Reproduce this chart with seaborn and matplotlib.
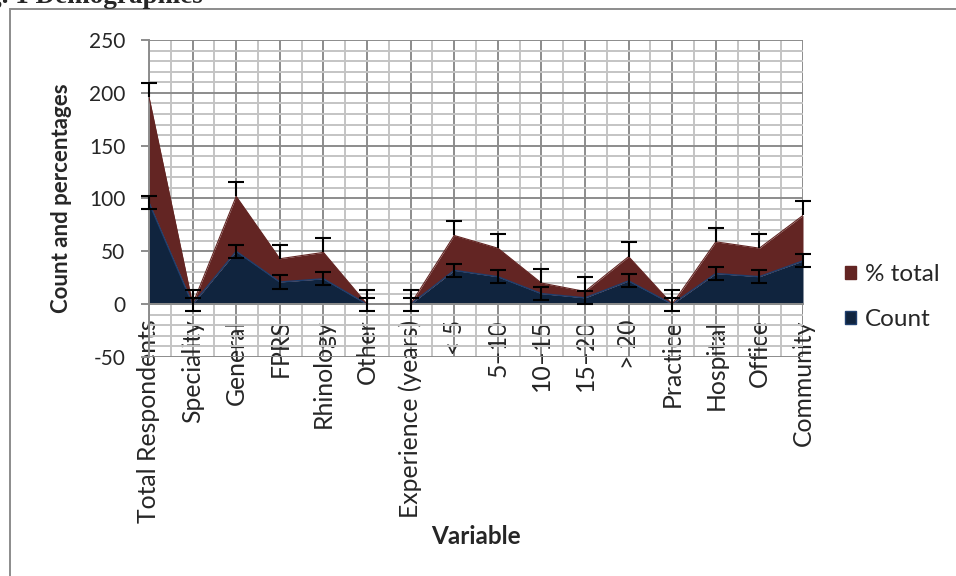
#!/usr/bin/env python3
"""
Demographics - stacked area of count and % total per variable
"""

import numpy as np
import pandas as pd
import matplotlib
matplotlib.use('Agg')
import matplotlib.pyplot as plt
from matplotlib.patches import Patch, Rectangle
import seaborn as sns

# Data
categories = ['Total Respondents', 'Speciality', 'General', 'FPRS', 'Rhinology', 'Other',
              'Experience (years)', '< 5', '5–10', '10–15', '15–20', '> 20',
              'Practice', 'Hospital', 'Office', 'Community']
count = [96, 0, 50, 21, 24, 0, 0, 32, 26, 10, 6, 22, 0, 29, 26, 41]
pct_total = [100, 0, 52, 22, 25, 0, 0, 33, 27, 10, 6, 23, 0, 30, 27, 43]
count_err = 6.2
pct_err = 13.4

y_ticks = [-50, 0, 50, 100, 150, 200, 250]

COUNT_COLOR = '#10243E'
PCT_COLOR = '#632523'
MAJOR_GRID = '#8C8C8C'
MINOR_GRID = '#C4C4C4'
CAP = 6

sns.set_theme(style='white')
plt.rcParams['font.family'] = ['Lato', 'DejaVu Sans']

df = pd.DataFrame({'variable': categories, 'Count': count, '% total': pct_total})
df['pos'] = np.arange(len(df))
df['stack'] = df['Count'] + df['% total']

fig = plt.figure(figsize=(9.56, 5.76), dpi=100)
ax = fig.add_axes([149 / 956, 1 - 357 / 576, (803 - 149) / 956, (357 - 40) / 576])

# grid
ax.set_xlim(0, len(df) - 1)
ax.set_ylim(-50, 250)
ax.set_yticks(y_ticks)
ax.set_yticks(np.arange(-50, 251, 10), minor=True)
ax.set_xticks(df['pos'])
ax.set_xticks(np.arange(0.5, len(df) - 1, 1), minor=True)
ax.grid(which='minor', color=MINOR_GRID, lw=1.4, zorder=0)
ax.grid(which='major', color=MAJOR_GRID, lw=1.4, zorder=0.5)
ax.set_axisbelow(True)

# stacked areas
ax.fill_between(df['pos'], 0, df['Count'], color=COUNT_COLOR, lw=0, zorder=2)
ax.fill_between(df['pos'], df['Count'], df['stack'], color=PCT_COLOR, lw=0, zorder=2)
sns.lineplot(data=df, x='pos', y='Count', ax=ax, color='#1F3F6E', lw=1.0, zorder=3)
sns.lineplot(data=df, x='pos', y='stack', ax=ax, color=PCT_COLOR, lw=0.8, zorder=3)

# error bars: count both ways, % total plus only
ax.errorbar(df['pos'], df['Count'], yerr=count_err, fmt='none', ecolor='black',
            elinewidth=1.5, capsize=CAP, capthick=1.5, zorder=5, clip_on=False)
ax.vlines(df['pos'], df['stack'], df['stack'] + pct_err, color='black', lw=1.5,
          zorder=5, clip_on=False)
ax.plot(df['pos'], df['stack'] + pct_err, ls='none', marker='_', ms=2 * CAP, mew=1.5,
        color='black', zorder=5, clip_on=False)

# axes
for s in ['top', 'right']:
    ax.spines[s].set_visible(False)
ax.spines['left'].set_color(MAJOR_GRID)
ax.spines['left'].set_linewidth(1.4)
ax.spines['bottom'].set_position(('data', 0))
ax.spines['bottom'].set_color(MAJOR_GRID)
ax.spines['bottom'].set_linewidth(1.4)
ax.spines['bottom'].set_zorder(4)

ax.set_xticklabels(categories, rotation=90, fontsize=17.8, va='top', ha='center')
ax.set_yticklabels([str(v) for v in y_ticks], fontsize=15)
ax.tick_params(axis='y', which='major', length=6, width=1.4, color=MAJOR_GRID, pad=11, left=True)
ax.tick_params(axis='x', which='major', length=0, pad=11)
ax.tick_params(which='minor', length=0)
ax.set_xlabel('')
ax.set_ylabel('')

fig.text(61 / 956, 1 - 198 / 576, 'Count and percentages', rotation=90, fontsize=16,
         fontweight='bold', ha='center', va='center')
fig.text(476 / 956, 1 - 537 / 576, 'Variable', fontsize=17.5, fontweight='bold',
         ha='center', va='center')

# legend
handles = [Patch(facecolor=PCT_COLOR, edgecolor=PCT_COLOR),
           Patch(facecolor=COUNT_COLOR, edgecolor='#1F3F6E')]
fig.legend(handles, ['% total', 'Count'], loc='center left',
           bbox_to_anchor=(838 / 956, 1 - 297 / 576), frameon=False, fontsize=17.5,
           handlelength=0.45, handleheight=0.45, handletextpad=0.35, labelspacing=1.0,
           borderaxespad=0, borderpad=0.3)

# chart border (only top and left edges visible) and cut-off caption
fig.patches.append(Rectangle((10 / 956, -0.1), 1.2, (1 - 9 / 576) + 0.1,
                             transform=fig.transFigure, fill=False,
                             edgecolor='#8C8C8C', lw=1.4))
fig.text(203 / 956, 1 - 3 / 576, 'Fig. 1 Demographics', fontsize=19.5,
         fontweight='bold', family='Liberation Serif', ha='right', va='baseline')

fig.savefig('out.png', dpi=100)
